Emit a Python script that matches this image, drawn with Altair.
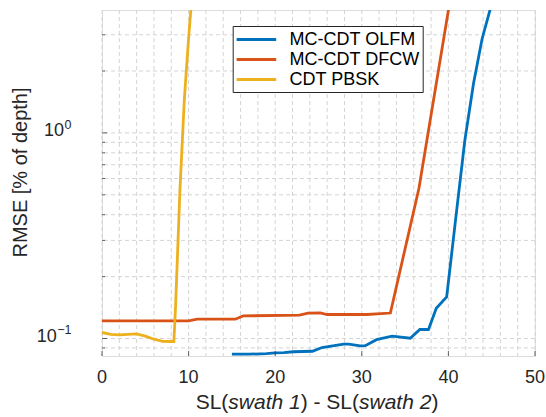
import altair as alt
import pandas as pd

# ---------------- data ----------------
series_names = ["MC-CDT OLFM", "MC-CDT DFCW", "CDT PBSK"]
series_colors = ["#0072BD", "#D95319", "#EDB120"]

olfm_x = [15, 17, 19, 20, 21, 22.1, 24.3, 25.4, 27.9, 28.5, 29.8, 30.4, 31.7, 33.5,
          35.6, 36.7, 37.7, 38.6, 39.8, 41, 41.9, 42.9, 43.9, 44.8, 45.8]
olfm_y = [0.0839, 0.0839, 0.0844, 0.0851, 0.0853, 0.0862, 0.0867, 0.0904, 0.0938, 0.0938,
          0.0920, 0.0923, 0.0987, 0.1026, 0.1003, 0.1106, 0.1106, 0.1404, 0.1593, 0.4366,
          0.921, 1.739, 2.878, 3.953, 5.53]

dfcw_x = [0, 10, 11, 15.4, 16.3, 22.8, 23.8, 25.2, 26, 30.6, 33.3, 36.6, 40, 41]
dfcw_y = [0.1218, 0.1218, 0.1241, 0.1241, 0.1288, 0.1298, 0.1328, 0.1332, 0.1308, 0.1308,
          0.1330, 0.538, 3.95, 7.1]

pbsk_x = [0, 1, 2, 3, 4, 5, 6, 7, 8, 8.3, 8.5, 9, 9.5, 10, 10.5]
pbsk_y = [0.107, 0.1048, 0.1042, 0.1048, 0.1053, 0.1027, 0.0992, 0.0969, 0.0967, 0.0967,
          0.145, 0.526, 1.44, 2.89, 5.3]

x_ticks = [0, 10, 20, 30, 40, 50]
x_tick_labels = ["0", "10", "20", "30", "40", "50"]
x_grid = list(range(0, 51, 2))
y_grid = [0.09, 0.1, 0.2, 0.3, 0.4, 0.5, 0.6, 0.7, 0.8, 0.9, 1, 2, 3]
y_major = [0.1, 1]
y_minor = [0.09, 0.2, 0.3, 0.4, 0.5, 0.6, 0.7, 0.8, 0.9, 2, 3]
y_major_exp = ["\u22121", "0"]

x_title_pieces = ["SL(", "swath 1", ") - SL(", "swath 2", ")"]
x_title_styles = ["normal", "italic", "normal", "italic", "normal"]
y_title = "RMSE [% of depth]"

# ---------------- layout constants ----------------
W, H = 433, 346
FONT = "Liberation Sans"
AX = "#262626"
GRID = "#d4d4d4"

rows = []
for name, xs_, ys_ in zip(series_names, [olfm_x, dfcw_x, pbsk_x], [olfm_y, dfcw_y, pbsk_y]):
    for i, (a, b) in enumerate(zip(xs_, ys_)):
        rows.append({"series": name, "x": a, "y": b, "i": i})
df = pd.DataFrame(rows)

xsc = alt.Scale(domain=[0, 50], nice=False, zero=False)
ysc = alt.Scale(type="log", domain=[0.0822, 3.96], nice=False)

grid_x = alt.Chart(pd.DataFrame({"x": x_grid})).mark_rule(
    color=GRID, strokeWidth=1, strokeDash=[4, 3]
).encode(x=alt.X("x:Q", scale=xsc, axis=None))

grid_y = alt.Chart(pd.DataFrame({"y": y_grid})).mark_rule(
    color=GRID, strokeWidth=1, strokeDash=[4, 3]
).encode(y=alt.Y("y:Q", scale=ysc, axis=None))

lines = alt.Chart(df).mark_line(strokeWidth=2.8, clip=True).encode(
    x=alt.X("x:Q", scale=xsc, axis=alt.Axis(
        labels=False, ticks=False, grid=False, domainColor=AX, domainWidth=1, title=None)),
    y=alt.Y("y:Q", scale=ysc, axis=alt.Axis(
        labels=False, ticks=False, grid=False, domainColor=AX, domainWidth=1, title=None)),
    color=alt.Color("series:N", scale=alt.Scale(domain=series_names, range=series_colors),
                    legend=alt.Legend(
                        title=None, orient="none", legendX=130.7, legendY=16,
                        fillColor="white", strokeColor=AX, padding=3,
                        symbolType="M-2.2,0H2.2", symbolSize=324, symbolStrokeWidth=2.8,
                        symbolOffset=10.2, labelOffset=22.6, labelFont=FONT,
                        labelFontSize=18, labelColor="#000000", rowPadding=0,
                        labelLimit=400)),
    order="i:Q",
)

ticks_x = alt.Chart(pd.DataFrame({"x": x_ticks})).mark_tick(
    orient="vertical", color=AX, thickness=1, size=5
).encode(x=alt.X("x:Q", scale=xsc, axis=None), y=alt.value(H - 2.5))

ticks_y_major = alt.Chart(pd.DataFrame({"y": y_major})).mark_tick(
    orient="horizontal", color=AX, thickness=1, size=5
).encode(y=alt.Y("y:Q", scale=ysc, axis=None), x=alt.value(2.5))

ticks_y_minor = alt.Chart(pd.DataFrame({"y": y_minor})).mark_tick(
    orient="horizontal", color=AX, thickness=1, size=3
).encode(y=alt.Y("y:Q", scale=ysc, axis=None), x=alt.value(1.5))

x_labels = alt.Chart(pd.DataFrame({"x": x_ticks, "t": x_tick_labels})).mark_text(
    align="center", baseline="alphabetic", font=FONT, fontSize=18, color=AX
).encode(x=alt.X("x:Q", scale=xsc, axis=None), y=alt.value(373), text="t:N")

y_title_mark = alt.Chart(pd.DataFrame({"t": [y_title]})).mark_text(
    align="center", baseline="alphabetic", font=FONT, fontSize=20, color=AX, angle=270
).encode(x=alt.value(-75), y=alt.value(162.5), text="t:N")

layers = [grid_x, grid_y, lines, ticks_x, ticks_y_major, ticks_y_minor, x_labels, y_title_mark]

# y tick labels as 10 with superscript exponent
SUP_RIGHT = -30.5
SUP_FS = 12.5
char_w = {"0": 556, "1": 556, "2": 556, "\u2212": 584, "S": 667, "L": 556, "(": 333,
          ")": 333, " ": 278, "-": 333, "s": 500, "w": 722, "a": 556, "t": 278, "h": 556}


def text_width(s, fs):
    return sum(char_w.get(c, 556) for c in s) * fs / 1000.0


for val, ex in zip(y_major, y_major_exp):
    sup = alt.Chart(pd.DataFrame({"y": [val], "t": [ex]})).mark_text(
        align="right", baseline="alphabetic", font=FONT, fontSize=SUP_FS, color=AX, dy=-4
    ).encode(y=alt.Y("y:Q", scale=ysc, axis=None), x=alt.value(SUP_RIGHT), text="t:N")
    base = alt.Chart(pd.DataFrame({"y": [val], "t": ["10"]})).mark_text(
        align="right", baseline="alphabetic", font=FONT, fontSize=18, color=AX, dy=3.3
    ).encode(y=alt.Y("y:Q", scale=ysc, axis=None),
             x=alt.value(SUP_RIGHT - text_width(ex, SUP_FS) - 0.5), text="t:N")
    layers += [base, sup]

# x title with italic parts
XT_FS = 21
total = sum(text_width(p, XT_FS) for p in x_title_pieces)
cx = 317 - 102
pos = cx - total / 2
for piece, style in zip(x_title_pieces, x_title_styles):
    t = alt.Chart(pd.DataFrame({"t": [piece]})).mark_text(
        align="left", baseline="alphabetic", font=FONT, fontSize=XT_FS, fontStyle=style,
        color=AX
    ).encode(x=alt.value(pos), y=alt.value(398.5), text="t:N")
    layers.append(t)
    pos += text_width(piece, XT_FS)

chart = alt.layer(*layers).properties(
    width=W, height=H,
    autosize=alt.AutoSizeParams(type="none"),
    padding={"left": 102, "top": 10, "right": 11, "bottom": 61},
    background="white",
).configure_view(stroke="transparent").configure(font=FONT)

chart.save("out.html", embed_options={"renderer": "svg", "actions": False})
